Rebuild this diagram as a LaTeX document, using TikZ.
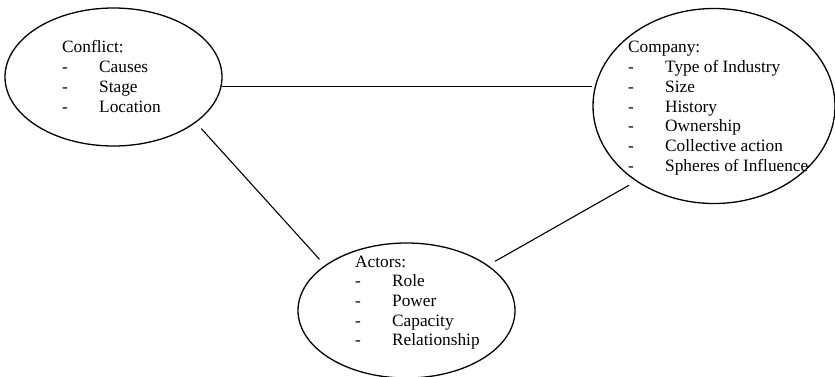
\documentclass[tikz,border=0pt]{standalone}
\usepackage{fontspec}
\setmainfont{Liberation Serif}
\usetikzlibrary{shapes.geometric}
\newcommand{\dashitem}[1]{\makebox[37pt][l]{-}#1}
\tikzset{
  topic/.style={draw, ellipse, line width=1.3pt, inner sep=0pt},
  topictext/.style={inner sep=0pt, anchor=base west,
                    font=\fontsize{17.3}{19.7}\selectfont},
  link/.style={line width=1.1pt, shorten <=8pt, shorten >=8pt},
}

\begin{document}
\begin{tikzpicture}[x=1pt, y=-1pt]
    \useasboundingbox (0,0) rectangle (835,377);
    \node[topic, minimum width=217pt, minimum height=138pt] (conflict) at (113.5,77) {};
    \node[topic, minimum width=242pt, minimum height=195pt] (company) at (714,106) {};
    \node[topic, minimum width=217pt, minimum height=135pt] (actors) at (406.5,310.5) {};
    \node[topictext] (conflicttext) at (62,53) {\begin{tabular}[t]{@{}l@{}}
      Conflict:\\ \dashitem{Causes}\\ \dashitem{Stage}\\ \dashitem{Location}
    \end{tabular}};
    \node[topictext] (companytext) at (628,53) {\begin{tabular}[t]{@{}l@{}}
      Company:\\ \dashitem{Type of Industry}\\ \dashitem{Size}\\ \dashitem{History}\\
      \dashitem{Ownership}\\ \dashitem{Collective action}\\ \dashitem{Spheres of Influence}
    \end{tabular}};
    \node[topictext] (actorstext) at (355,267) {\begin{tabular}[t]{@{}l@{}}
      Actors:\\ \dashitem{Role}\\ \dashitem{Power}\\ \dashitem{Capacity}\\ \dashitem{Relationship}
    \end{tabular}};
    \draw[link, shorten <=0pt, shorten >=0pt] (conflict.-5.3) -- (conflict.-5.3 -| company.west);
    \draw[link] (conflict.-29) -- (actors.151);
    \draw[link] (actors.29) -- (company.-136);
  \end{tikzpicture}
\end{document}
